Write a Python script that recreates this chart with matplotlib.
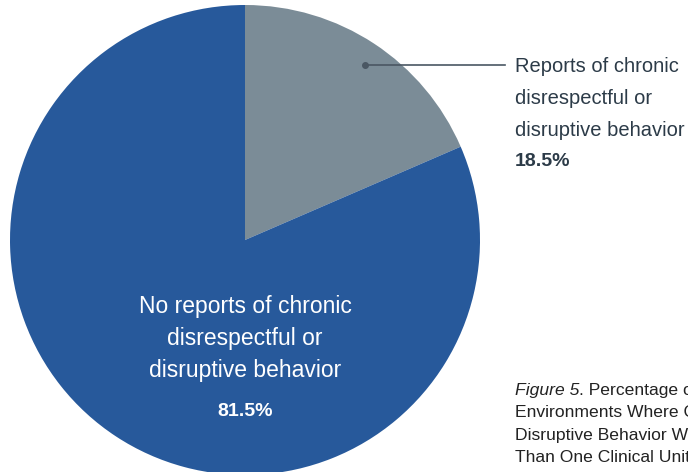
import matplotlib.pyplot as plt

labels = ['Reports of chronic\ndisrespectful or\ndisruptive behavior',
          'No reports of chronic\ndisrespectful or\ndisruptive behavior']
values = [18.5, 81.5]
colors = ['#7b8c97', '#27599b']
caption = ['Percentage of Work', 'Environments Where Chronic Disrespectful or',
           'Disruptive Behavior Was Reported in More', 'Than One Clinical Unit']

plt.rcParams['font.family'] = ['Liberation Sans', 'DejaVu Sans']
fig = plt.figure(figsize=(6.88, 4.72), dpi=100)
ax = fig.add_axes([0, 0, 1, 1])

H = 472
cx, cy, r = 245, H - 240, 235
ax.pie(values, colors=colors, startangle=90, counterclock=False,
       center=(cx, cy), radius=r, frame=True)
ax.set_xlim(0, 688)
ax.set_ylim(0, 472)
ax.set_aspect('equal')
ax.axis('off')

txt = '#2c3b48'
fs = 14.5
# callout for the small slice
ax.plot([365, 505], [H - 65, H - 65], color='#4a5763', lw=1.2)
ax.plot(365, H - 65, 'o', color='#4a5763', ms=4)
for i, line in enumerate(labels[0].split('\n')):
    ax.text(515, H - 67 - i * 31.5, line, ha='left', va='center',
            fontsize=fs, color=txt)
ax.text(515, H - 161, f'{values[0]}%', ha='left', va='center', fontsize=14,
        color=txt, fontweight='bold')

# label inside the big slice
for i, line in enumerate(labels[1].split('\n')):
    ax.text(245, H - 307 - i * 32, line, ha='center', va='center',
            fontsize=16.5, color='white')
ax.text(245, H - 411, f'{values[1]}%', ha='center', va='center', fontsize=14,
        color='white', fontweight='bold')

# figure caption, cut by the right edge as in the source page
cfs = 12.6
cap_col = '#222222'
t = ax.text(515, H - 390, 'Figure 5', ha='left', va='center', fontsize=cfs,
            color=cap_col, style='italic')
fig.canvas.draw()
bb = t.get_window_extent(fig.canvas.get_renderer())
ax.text(bb.x1, H - 390, '. ' + caption[0], ha='left', va='center',
        fontsize=cfs, color=cap_col)
for i, line in enumerate(caption[1:]):
    ax.text(515, H - 413 - i * 22.5, line, ha='left', va='center',
            fontsize=cfs, color=cap_col)

fig.savefig('out.png', dpi=100)
